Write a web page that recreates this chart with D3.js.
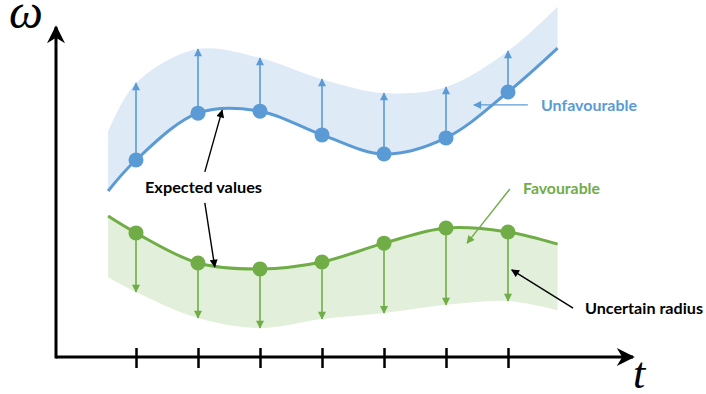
<!DOCTYPE html>
<html>
<head>
<meta charset="utf-8">
<script src="https://cdn.jsdelivr.net/npm/d3@7"></script>
<style>
  body { margin: 0; background: #fff; }
  svg text.lab { font-family: Lato, "Open Sans", sans-serif; font-weight: bold; }
</style>
</head>
<body>
<div id="chart"></div>
<script>
// time stamps (tick positions) and the curve ends
var tTicks = [1, 2, 3, 4, 5, 6, 7];
var tCurve = [0.55, 1, 2, 3, 4, 5, 6, 7, 7.8];

// unfavourable (blue) : expected values and the upper edge of the uncertain band
var blueExpected = [5.03, 5.97, 7.39, 7.45, 6.73, 6.15, 6.64, 8.03, 9.36];
var blueUpper    = [6.82, 8.30, 9.33, 9.06, 8.42, 8.00, 8.18, 9.27, 10.61];

// favourable (green) : expected values and the lower edge of the band
var greenExpected = [4.27, 3.76, 2.85, 2.67, 2.88, 3.45, 3.91, 3.79, 3.42];
var greenLower    = [2.42, 1.97, 1.18, 0.88, 1.15, 1.33, 1.58, 1.70, 1.42];

var blue = "#5b9bd5", blueFill = "#deeaf6";
var green = "#70ad47", greenFill = "#e2efda";

var W = 706, H = 394;
var svg = d3.select("#chart").append("svg")
  .attr("width", W).attr("height", H);

// scales
var x = d3.scaleLinear().domain([1, 7]).range([136, 508]);
var y = d3.scaleLinear().domain([0, 10]).range([357, 27]);

// markers for arrow heads
var defs = svg.append("defs");
function marker(id, col, w, h) {
  defs.append("marker")
    .attr("id", id)
    .attr("viewBox", "0 0 10 10")
    .attr("refX", 9).attr("refY", 5)
    .attr("markerUnits", "userSpaceOnUse")
    .attr("markerWidth", w).attr("markerHeight", h)
    .attr("orient", "auto")
    .append("path")
    .attr("d", "M0,0 L10,5 L0,10 Z")
    .attr("fill", col);
}
marker("ahBlue", blue, 9, 8);
marker("ahGreen", green, 9, 8);
marker("ahBlack", "#000", 9, 8);
defs.append("marker")
  .attr("id", "ahAxis")
  .attr("viewBox", "0 0 10 10")
  .attr("refX", 9).attr("refY", 5)
  .attr("markerUnits", "userSpaceOnUse")
  .attr("markerWidth", 20).attr("markerHeight", 18)
  .attr("orient", "auto")
  .append("path")
  .attr("d", "M0,0 L10,5 L0,10 L3,5 Z")
  .attr("fill", "#000");

var curve = d3.curveCatmullRom.alpha(0.5);

var blueRows = tCurve.map(function(t, i) { return {t: t, e: blueExpected[i], b: blueUpper[i]}; });
var greenRows = tCurve.map(function(t, i) { return {t: t, e: greenExpected[i], b: greenLower[i]}; });

var area = d3.area().curve(curve)
  .x(function(d) { return x(d.t); })
  .y0(function(d) { return y(d.e); })
  .y1(function(d) { return y(d.b); });
var line = d3.line().curve(curve)
  .x(function(d) { return x(d.t); })
  .y(function(d) { return y(d.e); });

svg.append("path").datum(blueRows).attr("d", area).attr("fill", blueFill);
svg.append("path").datum(greenRows).attr("d", area).attr("fill", greenFill);

svg.append("path").datum(blueRows).attr("d", line)
  .attr("fill", "none").attr("stroke", blue).attr("stroke-width", 3);
svg.append("path").datum(greenRows).attr("d", line)
  .attr("fill", "none").attr("stroke", green).attr("stroke-width", 3);

// uncertain radius arrows and points at the ticks
function pointsAndArrows(rows, col, mk) {
  var pts = rows.slice(1, rows.length - 1);
  svg.append("g").selectAll("line").data(pts).join("line")
    .attr("x1", function(d) { return x(d.t); })
    .attr("x2", function(d) { return x(d.t); })
    .attr("y1", function(d) { return y(d.e); })
    .attr("y2", function(d) { return y(d.b); })
    .attr("stroke", col).attr("stroke-width", 1.6)
    .attr("marker-end", "url(#" + mk + ")");
  svg.append("g").selectAll("circle").data(pts).join("circle")
    .attr("cx", function(d) { return x(d.t); })
    .attr("cy", function(d) { return y(d.e); })
    .attr("r", 7.5)
    .attr("fill", col);
}
pointsAndArrows(blueRows, blue, "ahBlue");
pointsAndArrows(greenRows, green, "ahGreen");

// axes
var x0 = 56, yAxis = y(0);
var axis = svg.append("g").attr("transform", "translate(0," + yAxis + ")")
  .call(d3.axisBottom(x).tickValues(tTicks).tickSize(0).tickFormat(""));
axis.select(".domain").remove();
axis.selectAll(".tick line")
  .attr("y1", -9).attr("y2", 11)
  .attr("stroke", "#000").attr("stroke-width", 2.5);

svg.append("line")
  .attr("x1", x0).attr("y1", yAxis).attr("x2", 633).attr("y2", yAxis)
  .attr("stroke", "#000").attr("stroke-width", 3)
  .attr("marker-end", "url(#ahAxis)");
svg.append("line")
  .attr("x1", x0).attr("y1", yAxis + 1.5).attr("x2", x0).attr("y2", 27)
  .attr("stroke", "#000").attr("stroke-width", 3)
  .attr("marker-end", "url(#ahAxis)");

svg.append("text").attr("x", 9).attr("y", 28)
  .style("font-family", "'Liberation Serif', 'DejaVu Serif', serif")
  .style("font-style", "italic").style("font-size", "48px")
  .text("ω");
svg.append("text").attr("x", 633).attr("y", 388)
  .style("font-family", "'Liberation Serif', 'DejaVu Serif', serif")
  .style("font-style", "italic").style("font-size", "44px")
  .text("t");

// annotations (data coordinates)
function note(t1, w1, t2, w2, col, mk) {
  svg.append("line")
    .attr("x1", x(t1)).attr("y1", y(w1))
    .attr("x2", x(t2)).attr("y2", y(w2))
    .attr("stroke", col).attr("stroke-width", 1.4)
    .attr("marker-end", "url(#" + mk + ")");
}
note(2.11, 5.61, 2.39, 7.48, "#000", "ahBlack");
note(2.11, 4.67, 2.27, 2.73, "#000", "ahBlack");
note(7.32, 7.64, 6.45, 7.64, blue, "ahBlue");
note(7.03, 5.09, 6.34, 3.45, green, "ahGreen");
note(8.05, 1.48, 7.06, 2.64, "#000", "ahBlack");

function label(txt, px, py, len, col) {
  svg.append("text").attr("class", "lab")
    .attr("x", px).attr("y", py)
    .attr("textLength", len).attr("lengthAdjust", "spacingAndGlyphs")
    .style("font-size", "14.5px").attr("fill", col)
    .text(txt);
}
label("Expected values", 145, 193, 117, "#000");
label("Unfavourable", 541, 111, 96, blue);
label("Favourable", 523, 194, 77, green);
label("Uncertain radius", 585, 314, 118, "#000");
</script>
</body>
</html>
